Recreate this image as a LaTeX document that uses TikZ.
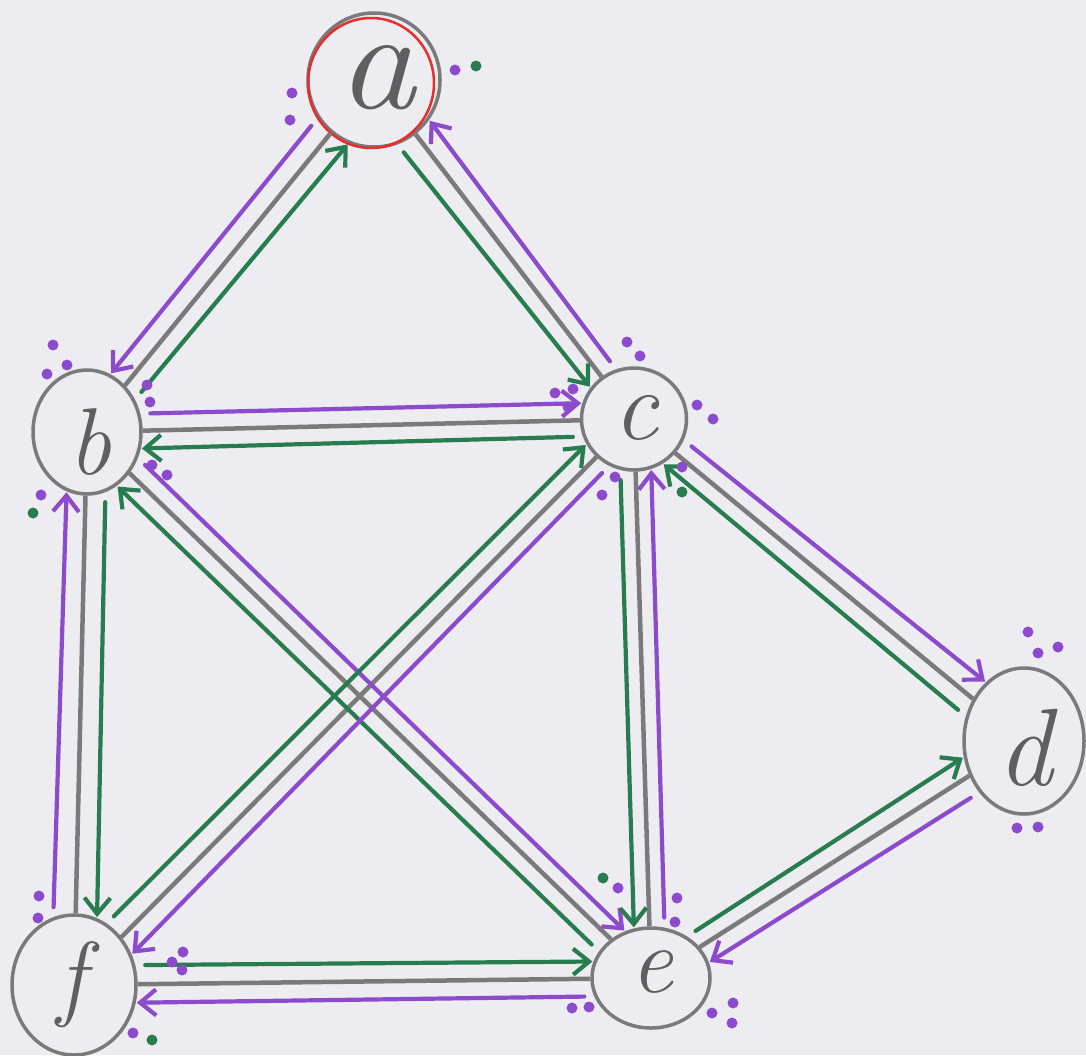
\documentclass[tikz,border=0pt]{standalone}
\usepackage{fontspec}
\usetikzlibrary{shapes.geometric,arrows.meta}
\definecolor{pur}{RGB}{140,75,205}
\definecolor{grn}{RGB}{40,125,80}
\definecolor{gry}{RGB}{122,122,122}
\definecolor{ink}{RGB}{95,95,95}
\definecolor{rd}{RGB}{232,45,45}
\definecolor{paper}{RGB}{237,237,241}
\newcommand\mkarrow[4]{%
  \pgfmathanglebetweenpoints{\pgfpointanchor{#1}{center}}{\pgfpointanchor{#2}{center}}%
  \let\myangO\pgfmathresult
  \pgfmathtruncatemacro\myangA{round(mod(\myangO+#3+720,360))}%
  \pgfmathtruncatemacro\myangB{round(mod(\myangO+180-#3+720,360))}%
  \draw[#4] (#1.\myangA) -- (#2.\myangB);%
}
\begin{document}
\begin{tikzpicture}[x=1pt,y=-1pt,
  vtx/.style={ellipse, draw=gry, line width=3.5pt, inner sep=0pt},
  lbl/.style={text=ink, inner sep=0pt},
  edge/.style={draw=gry, line width=4.5pt},
  arr/.style={line width=4.2pt, line cap=round, line join=round,
    -{Straight Barb[length=16pt,width=26pt]}, shorten <=10pt, shorten >=1pt},
  parr/.style={arr, draw=pur},
  garr/.style={arr, draw=grn},
]
\fill[paper] (0,0) rectangle (1086,1055);
\useasboundingbox (0,0) rectangle (1086,1055);

% vertices
\node[vtx, minimum width=132pt, minimum height=134pt] (a) at (374,80) {};
\node[vtx, minimum width=108pt, minimum height=124pt] (b) at (87,432) {};
\node[vtx, minimum width=105pt, minimum height=102pt] (c) at (634,419) {};
\node[vtx, minimum width=120pt, minimum height=146pt] (d) at (1024,741) {};
\node[vtx, minimum width=118pt, minimum height=100pt] (e) at (651,978) {};
\node[vtx, minimum width=124pt, minimum height=140pt] (f) at (74,985) {};
\draw[rd, line width=2.5pt] (371,83) ellipse (63pt and 65pt);

% labels
\node[lbl, font={\fontsize{130}{130}\selectfont\itshape}] (la) at (376,78) {\scalebox{1.2}[1.1]{a}};
\node[lbl, font={\fontsize{95}{95}\selectfont\itshape}] (lb) at (90,442) {b};
\node[lbl, font={\fontsize{100}{100}\selectfont\itshape}] (lc) at (636,418) {c};
\node[lbl, font={\fontsize{110}{110}\selectfont\itshape}] (ld) at (1025,748) {d};
\node[lbl, font={\fontsize{95}{95}\selectfont\itshape}] (le) at (652,972) {e};
\node[lbl, font={\fontsize{95}{95}\selectfont\itshape}] (lf) at (72,985) {f};

% grey edges
\draw[edge] (a) -- (b);
\draw[edge] (a) -- (c);
\draw[edge] (b) -- (c);
\draw[edge] (c) -- (d);
\draw[edge] (b) -- (f);
\draw[edge] (b) -- (e);
\draw[edge] (c) -- (f);
\draw[edge] (c) -- (e);
\draw[edge] (d) -- (e);
\draw[edge] (f) -- (e);

% coloured arrows
\mkarrow{a}{b}{-17}{parr}
\mkarrow{b}{a}{-17}{garr}
\mkarrow{c}{a}{-17}{parr}
\mkarrow{a}{c}{-17}{garr}
\mkarrow{b}{c}{18}{parr}
\mkarrow{c}{b}{18}{garr}
\mkarrow{c}{d}{17}{parr}
\mkarrow{d}{c}{17}{garr}
\mkarrow{f}{b}{18}{parr}
\mkarrow{b}{f}{18}{garr}
\mkarrow{b}{e}{17}{parr}
\mkarrow{e}{b}{17}{garr}
\mkarrow{f}{c}{17}{garr}
\mkarrow{c}{f}{17}{parr}
\mkarrow{c}{e}{-17}{garr}
\mkarrow{e}{c}{-17}{parr}
\mkarrow{e}{d}{17}{garr}
\mkarrow{d}{e}{17}{parr}
\mkarrow{f}{e}{17}{garr}
\mkarrow{e}{f}{17}{parr}

% dots
\foreach \p in {(292,93),(290,120),(455,70),
  (53,345),(47,374),(67,365),(147,385),(150,402),(152,465),(167,475),(41,495),
  (627,342),(640,356),(555,393),(573,389),(568,407),(697,405),(713,419),
  (615,477),(602,495),(682,467),
  (1028,632),(1038,653),(1058,647),(1017,828),(1038,827),
  (618,888),(677,898),(675,922),(572,1008),(589,1007),(733,1003),(712,1013),(732,1023),
  (39,896),(38,918),(183,952),(172,962),(182,970),(133,1033)}
  \fill[pur] \p circle (5.5pt);
\foreach \p in {(476,66),(33,513),(682,492),(603,878),(152,1040)}
  \fill[grn] \p circle (5.5pt);
\end{tikzpicture}
\end{document}
